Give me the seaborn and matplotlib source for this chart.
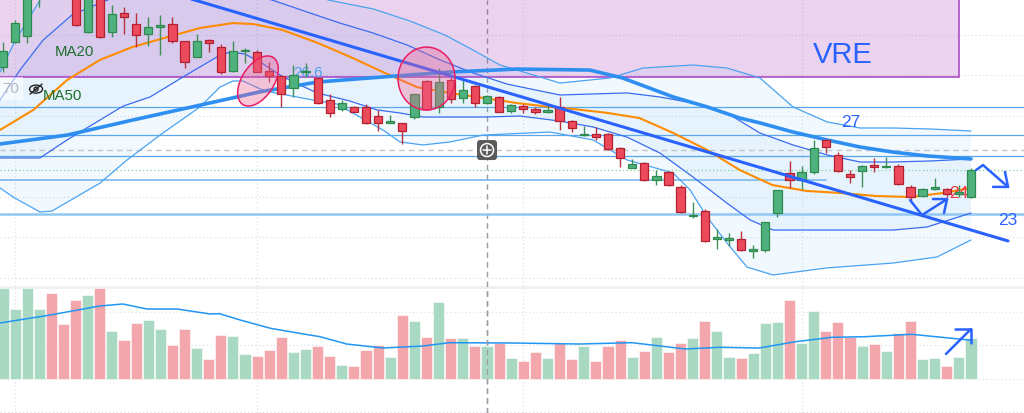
import numpy as np
import pandas as pd
import seaborn as sns
import matplotlib.pyplot as plt
from matplotlib import transforms
from matplotlib.patches import Rectangle, Ellipse, FancyBboxPatch, Circle

# -----------------------------
# Daily candles (VRE)
# -----------------------------
opens = [30.42, 31.62, 31.95, 34.6, 36.3, 35.8, 34.4, 32.14, 34.0, 32.14,
         33.05, 32.51, 32.02, 32.39, 32.51, 31.70, 30.91, 31.72, 31.39, 30.22,
         31.17, 31.13, 30.2, 29.94, 29.35, 30.13, 29.84, 28.77, 28.33, 28.44,
         28.44, 28.0, 27.66, 27.62, 27.92, 29.71, 28.44, 29.76, 28.89, 29.46,
         28.61, 28.93, 28.23, 28.49, 28.31, 28.19, 28.44, 27.73, 27.03, 27.09,
         27.09, 26.39, 25.43, 25.65, 24.82, 25.2, 24.49, 23.03, 23.31, 21.93,
         21.88, 21.91, 21.32, 21.36, 23.18, 25.18, 24.82, 25.2, 26.8, 26.06,
         25.12, 25.28, 25.56, 25.44, 25.51, 24.49, 24.03, 24.39, 24.36, 24.15,
         24.0]
highs = [31.65, 32.72, 34.4, 35.9, 36.6, 36.2, 34.6, 34.3, 34.2, 33.46,
         33.35, 33.05, 32.86, 32.97, 32.89, 31.71, 32.02, 31.78, 31.54, 31.7,
         31.35, 31.24, 30.66, 30.01, 30.5, 30.61, 29.92, 29.07, 28.77, 28.48,
         28.57, 28.28, 28.03, 27.63, 29.07, 29.76, 30.34, 29.92, 29.76, 29.51,
         29.02, 28.97, 28.56, 28.57, 28.44, 28.57, 28.9, 27.78, 27.49, 27.45,
         27.13, 26.47, 25.84, 25.7, 25.31, 25.27, 24.57, 23.72, 23.37, 22.39,
         22.19, 22.3, 21.61, 22.76, 24.33, 25.76, 25.53, 26.8, 26.83, 26.19,
         25.31, 25.55, 25.89, 25.97, 25.6, 24.57, 24.44, 24.93, 24.41, 24.57,
         25.4]
lows = [30.17, 31.59, 31.59, 33.36, 34.9, 34.4, 32.45, 32.1, 31.85, 31.87,
        32.02, 31.40, 31.45, 30.99, 31.6, 30.34, 30.9, 31.16, 30.06, 30.17,
        30.61, 30.15, 29.65, 28.41, 28.93, 29.92, 28.57, 27.95, 28.23, 28.16,
        27.61, 27.26, 27.62, 26.6, 27.83, 28.28, 28.11, 28.61, 28.61, 28.44,
        28.56, 28.16, 28.11, 28.11, 28.08, 28.11, 27.29, 27.18, 26.99, 26.8,
        26.3, 25.48, 25.4, 24.79, 24.57, 24.52, 23.18, 22.93, 21.74, 21.4,
        21.56, 21.33, 20.95, 21.28, 23.01, 24.41, 24.36, 25.12, 26.17, 25.2,
        24.69, 24.49, 25.23, 25.4, 24.57, 23.75, 24.0, 24.33, 23.97, 23.98,
        23.92]
closes = [31.21, 32.56, 34.2, 35.5, 35.4, 34.6, 32.48, 34.0, 31.9, 33.0,
          32.86, 31.98, 32.36, 32.40, 31.69, 30.63, 31.69, 31.6, 30.17, 31.19,
          31.18, 30.17, 29.97, 29.05, 30.01, 30.14, 28.61, 28.11, 28.64, 28.19,
          27.62, 27.62, 27.68, 27.24, 29.05, 28.34, 29.65, 28.81, 29.27, 28.61,
          28.95, 28.19, 28.51, 28.33, 28.16, 28.2, 27.75, 27.37, 27.05, 26.93,
          26.35, 25.91, 25.6, 24.82, 25.03, 24.56, 23.26, 23.05, 21.79, 21.95,
          21.9, 21.36, 21.33, 22.73, 24.31, 24.82, 25.2, 26.39, 26.47, 25.28,
          24.98, 25.53, 25.45, 25.45, 24.62, 23.97, 24.36, 24.4, 24.11, 24.17,
          25.31]
volumes = [9.07, 6.97, 9.07, 6.97, 8.57, 5.47, 7.87, 8.37, 9.07, 4.77,
           3.87, 5.57, 5.87, 4.97, 3.37, 4.97, 3.07, 1.97, 4.37, 4.27,
           2.47, 2.27, 2.87, 4.17, 2.67, 2.97, 3.27, 2.27, 1.37, 1.27,
           2.87, 3.37, 2.17, 6.37, 5.77, 4.17, 7.67, 4.07, 4.07, 3.27,
           3.27, 3.57, 2.07, 1.80, 2.70, 2.10, 3.60, 1.97, 3.30, 1.80,
           3.24, 3.84, 2.17, 2.80, 4.14, 2.64, 3.60, 4.07, 5.80, 4.74,
           2.17, 2.04, 2.57, 5.57, 5.67, 7.87, 3.60, 6.80, 4.80, 5.67,
           4.20, 3.24, 3.47, 2.80, 4.54, 5.80, 1.97, 2.04, 1.27, 2.17,
           4.07]

# -----------------------------
# Indicator lines (read at sample points: bar index, price)
# -----------------------------
ma20_x = [-0.25, 2.5, 5.3, 8.0, 10.7, 13.6, 16.3, 19.0, 20.7, 23.1, 26.0, 28.7, 31.4, 34.2, 36.9, 39.7,
          42.5, 45.2, 47.1, 50.0, 52.6, 55.4, 58.2, 60.9, 63.6, 66.4, 69.2, 72.2, 75.0, 77.7, 80.0]
ma20_y = [27.29, 28.28, 29.76, 30.75, 31.39, 31.88, 32.33, 32.57, 32.52, 32.23, 31.59, 30.9, 30.15, 29.41,
          29.12, 28.87, 28.62, 28.43, 28.33, 28.13, 27.88, 27.14, 26.3, 25.31, 24.57, 24.28, 24.18, 24.03,
          23.98, 24.18, 24.43]
ma50_x = [-0.25, 5.3, 10.7, 16.3, 21.2, 26.0, 31.4, 36.9, 42.5, 48.5, 51.2, 55.4, 58.2, 60.9, 62.56,
          65.29, 68.1, 70.83, 73.55, 76.36, 80.0]
ma50_y = [26.6, 27.04, 27.78, 28.52, 29.17, 29.66, 29.91, 30.15, 30.3, 30.25, 29.86, 28.92, 28.43, 27.88,
          27.64, 27.19, 26.8, 26.45, 26.2, 26.01, 25.86]

# Bollinger bands: outer (2 sd) and inner (1 sd)
bb_up2_x = [-0.25, 0.83, 1.65, 3.06, 4.71, 8.02, 12.15, 16.28, 20.41, 24.55, 26.86, 30.58, 33.64, 36.53,
            38.84, 41.07, 44.38, 46.03, 50.17, 52.89, 57.02, 59.83, 62.56, 65.29, 68.1, 70.83, 73.55,
            76.61, 80.0]
bb_up2_y = [30.15, 31.49, 32.33, 33.71, 35.19, 36.67, 36.77, 36.28, 35.29, 34.30, 33.71, 33.27, 32.67,
            31.98, 31.24, 30.5, 29.91, 29.61, 29.86, 30.35, 30.5, 30.35, 29.86, 28.43, 27.69, 27.39,
            27.39, 27.34, 27.24]
bb_up1_x = [-0.25, 1.40, 3.31, 5.70, 8.02, 9.26, 12.15, 16.28, 19.59, 22.23, 25.12, 27.85, 30.58, 33.39,
            36.12, 38.84, 41.65, 44.38, 46.03, 48.76, 51.57, 54.3, 57.02, 59.83, 62.56, 65.29, 68.1,
            70.83, 73.55, 76.61, 80.0]
bb_up1_y = [28.77, 30.25, 31.73, 32.97, 33.56, 33.86, 34.30, 34.30, 34.01, 33.71, 33.12, 32.57, 32.08,
            31.49, 30.75, 30.11, 29.56, 29.22, 29.02, 29.07, 29.12, 28.92, 28.62, 28.13, 27.14, 26.55,
            26.06, 25.71, 25.71, 25.76, 25.86]
bb_lo1_x = [-0.25, 3.06, 5.29, 9.92, 12.15, 14.88, 17.69, 18.76, 20.0, 21.24, 23.14, 25.95, 28.68, 30.91,
            32.81, 34.71, 39.67, 42.73, 46.03, 48.76, 51.57, 54.3, 57.02, 59.83, 61.74, 63.64, 68.1,
            73.55, 76.36, 80.0]
bb_lo1_y = [25.91, 25.91, 26.8, 28.47, 28.92, 29.91, 30.9, 31.14, 31.04, 30.65, 29.91, 29.12, 28.72,
            28.28, 28.13, 27.93, 27.93, 27.98, 27.73, 27.44, 26.94, 26.15, 24.97, 23.68, 22.85, 22.35,
            22.35, 22.35, 22.5, 23.19]
bb_lo2_x = [-0.25, 0.83, 3.06, 4.05, 8.02, 10.25, 12.98, 16.28, 17.93, 19.01, 19.83, 21.24, 22.07, 25.62,
            27.6, 31.4, 32.81, 34.71, 36.94, 39.67, 45.21, 48.76, 51.57, 55.37, 56.78, 58.18, 59.83,
            61.49, 63.64, 68.1, 73.55, 77.19, 80.0]
bb_lo2_y = [24.43, 23.98, 23.24, 23.29, 24.67, 25.81, 27.04, 28.43, 29.41, 29.71, 29.71, 29.32, 29.17,
            28.77, 28.57, 27.29, 26.7, 26.55, 26.7, 27.04, 27.19, 26.8, 25.81, 25.17, 24.33, 23.0, 21.71,
            20.52, 20.13, 20.48, 20.72, 21.02, 21.86]

# volume moving average
vol_ma_x = [-0.25, 3.9, 8.0, 9.9, 11.9, 14.4, 17.1, 17.9, 19.6, 22.1, 24.5, 26.2, 28.4, 31.4, 34.7,
            36.9, 42.1, 47.6, 52.0, 56.4, 59.2, 62.5, 65.5, 68.5, 71.2, 75.1, 80.0]
vol_ma_y = [5.57, 6.37, 7.27, 7.47, 6.97, 6.97, 6.47, 6.5, 5.87, 5.04, 4.54, 4.2, 3.47, 3.07, 3.27,
            3.6, 3.57, 3.47, 3.6, 2.97, 3.14, 3.07, 3.7, 4.14, 4.2, 4.44, 3.85]

# drawn levels / trendline / grid
level_prices = [28.44, 27.04, 26.01, 23.16]
short_level = 24.81
price_grid = [20, 22, 24, 26, 28, 30, 32]
vol_grid = [-3.33, 0, 3.33, 6.67]
time_grid = [1, 21, 43, 66]
trend_x = [13.06, 83.06]
trend_y = [34.2, 21.81]

# -----------------------------
# Styling
# -----------------------------
sns.set_theme(style="white")
plt.rcParams["font.family"] = ["Liberation Sans", "DejaVu Sans"]

UP_BODY, UP_EDGE = "#4fb27e", "#2f8a4e"
DN_BODY, DN_EDGE = "#ec4b5c", "#b3202f"
VOL_UP, VOL_DN = "#aad9c3", "#f4a6ad"
BLUE_DARK = "#2962ff"

df = pd.DataFrame({"day": np.arange(len(opens)), "open": opens, "high": highs,
                   "low": lows, "close": closes, "volume": volumes})
df["side"] = np.where(df["close"] >= df["open"], "up", "down")

fig = plt.figure(figsize=(10.24, 4.13), dpi=100)
ax = fig.add_axes([0, 0, 1, 1])
axv = ax.twinx()

XLIM = (-0.25, 84.38)

# grid
for p in price_grid:
    ax.axhline(p, color="#dfe1e6", lw=0.9, ls=(0, (1, 2)), zorder=0.2)
for t in time_grid:
    ax.axvline(t, color="#dfe1e6", lw=0.9, ls=(0, (1, 2)), zorder=0.2)
ax.axhline(19.54, color="#eef0f3", lw=2, zorder=0.2)

# Bollinger fills
ax.fill(np.r_[bb_up2_x, bb_lo2_x[::-1]], np.r_[bb_up2_y, bb_lo2_y[::-1]],
        color="#2196f3", alpha=0.06, lw=0, zorder=0.4)
ax.fill(np.r_[bb_up1_x, bb_lo1_x[::-1]], np.r_[bb_up1_y, bb_lo1_y[::-1]],
        color="#2196f3", alpha=0.05, lw=0, zorder=0.4)

# purple zone
ax.add_patch(Rectangle((-1, 29.93), 80.03, 8, facecolor=(0.612, 0.153, 0.69, 0.2),
                       edgecolor="#a53fc4", lw=1.1, zorder=0.8))

# crosshair
ax.axvline(40, color="#9a9da5", lw=1, ls=(0, (4, 3)), zorder=0.7)
ax.axhline(26.3, color="#c3c5cb", lw=1, ls=(0, (4, 3)), zorder=0.7)
ax.axhline(25.31, color="#7fcf9a", lw=0.9, ls=(0, (1, 2)), zorder=0.7)

# horizontal levels
for lv in level_prices[:-1]:
    ax.axhline(lv, color="#5aa6ea", lw=0.9, zorder=1)
ax.axhline(level_prices[-1], color="#90c8f5", lw=1.8, zorder=1)
ax.axhline(short_level, xmin=0, xmax=0.807, color="#7ab8ee", lw=1.2, zorder=1)

# bands and moving averages
for bx, by in [(bb_up2_x, bb_up2_y), (bb_lo2_x, bb_lo2_y)]:
    sns.lineplot(x=bx, y=by, ax=ax, color="#4aa3f2", linewidth=0.9, sort=False, estimator=None, zorder=1.5)
for bx, by in [(bb_up1_x, bb_up1_y), (bb_lo1_x, bb_lo1_y)]:
    sns.lineplot(x=bx, y=by, ax=ax, color="#3b6cf0", linewidth=0.9, sort=False, estimator=None, zorder=1.5)
sns.lineplot(x=ma20_x, y=ma20_y, ax=ax, color="#ff8c00", linewidth=1.5, sort=False, estimator=None, zorder=2)
sns.lineplot(x=ma50_x, y=ma50_y, ax=ax, color="#2f8ff0", linewidth=2.6, sort=False, estimator=None, zorder=2)

# labels under candles
ax.text(25.2, 30.1, "26.6", color="#4aa3f0", fontsize=11, ha="center", va="center", zorder=2.5)
ax.text(79.0, 24.13, "24", color="#f23645", fontsize=12.5, ha="center", va="center", zorder=2.5)

# candles
up = df["side"] == "up"
wick_cols = np.where(up, "#3f9058", "#b9303f")
ax.vlines(df["day"], df["low"], df["high"], colors=wick_cols, lw=1, zorder=2.8)
body_lo = np.minimum(df["open"], df["close"])
body_h = np.maximum(np.abs(df["close"] - df["open"]), 0.08)
ax.bar(df["day"], body_h, bottom=body_lo, width=0.68,
       color=np.where(up, UP_BODY, DN_BODY), edgecolor=np.where(up, UP_EDGE, DN_EDGE),
       linewidth=0.9, zorder=3)

# trendline
ax.plot(trend_x, trend_y, color=BLUE_DARK, lw=2.2, solid_capstyle="round", zorder=3.5)


def px_trans(x, y):
    # fixed pixel-size offsets placed at a data point (1 inch = 100 px)
    return fig.dpi_scale_trans + transforms.ScaledTranslation(x, y, ax.transData)


# highlight ellipses
ax.add_patch(Ellipse((0, 0), 0.56, 0.32, angle=57, transform=px_trans(21.07, 29.71),
                     facecolor=(0.94, 0.38, 0.57, 0.35), edgecolor="#e91e63", lw=1.1, zorder=4))
ax.add_patch(Ellipse((0, 0), 0.57, 0.63, angle=0, transform=px_trans(35.0, 29.83),
                     facecolor=(0.94, 0.38, 0.57, 0.35), edgecolor="#e91e63", lw=1.1, zorder=4))

# drawn arrows
arrow_kw = dict(color=BLUE_DARK, lw=1.8, solid_capstyle="round", solid_joinstyle="round", zorder=4)
ax.plot([80.41, 80.99, 83.06], [25.31, 25.56, 24.48], **arrow_kw)
ax.plot([81.82, 83.06, 82.81], [24.48, 24.48, 25.22], **arrow_kw)
ax.plot([74.96, 75.95, 78.02], [23.83, 23.09, 23.88], **arrow_kw)
ax.plot([76.86, 78.02, 77.77], [23.88, 23.88, 23.19], **arrow_kw)

# legend-like texts
ax.add_patch(Rectangle((-1, 28.77), 2.63, 1.15, facecolor="white", alpha=0.55, lw=0, zorder=3.6))
ax.text(0.66, 29.3, "70", color="#b5b8bf", fontsize=11, ha="center", va="center", zorder=3.7)
eye = px_trans(2.73, 29.31)
ax.add_patch(Ellipse((0, 0), 0.13, 0.08, transform=eye, fill=False, ec="#222222", lw=1, zorder=4))
ax.add_patch(Circle((0, 0), 0.02, transform=eye, fill=False, ec="#222222", lw=1, zorder=4))
ax.plot([-0.06, 0.06], [-0.05, 0.05], transform=eye, color="#222222", lw=1, zorder=4)
ax.text(5.87, 31.14, "MA20", color="#1e6e2c", fontsize=10.8, ha="center", va="center", zorder=4)
ax.text(4.88, 28.99, "MA50", color="#1e6e2c", fontsize=10.8, ha="center", va="center", zorder=4)
ax.text(69.42, 30.99, "VRE", color=BLUE_DARK, fontsize=21, ha="center", va="center", zorder=4)
ax.text(70.08, 27.64, "27", color=BLUE_DARK, fontsize=12.5, ha="center", va="center", zorder=4)
ax.text(83.06, 22.8, "23", color=BLUE_DARK, fontsize=12.5, ha="center", va="center", zorder=4)

# crosshair button
btn = px_trans(40, 26.3)
ax.add_patch(FancyBboxPatch((-0.1, -0.1), 0.2, 0.2, boxstyle="round,pad=0,rounding_size=0.03",
                            transform=btn, facecolor="#4d4d4d", edgecolor="none", alpha=0.92, zorder=6))
ax.add_patch(Circle((0, 0), 0.065, transform=btn, fill=False, ec="white", lw=1.1, zorder=6.1))
ax.plot([-0.04, 0.04], [0, 0], transform=btn, color="white", lw=1.1, zorder=6.2)
ax.plot([0, 0], [-0.04, 0.04], transform=btn, color="white", lw=1.1, zorder=6.2)

# -----------------------------
# Volume pane
# -----------------------------
for v in vol_grid:
    axv.axhline(v, color="#dfe1e6", lw=0.9, ls=(0, (1, 2)), zorder=0.2)
sns.barplot(data=df, x="day", y="volume", hue="side", palette={"up": VOL_UP, "down": VOL_DN},
            native_scale=True, dodge=False, width=0.92, saturation=1, errorbar=None, legend=False,
            edgecolor="#ffffff", linewidth=0.4, ax=axv, zorder=2)
sns.lineplot(x=vol_ma_x, y=vol_ma_y, ax=axv, color="#2196f3", linewidth=1.1, sort=False,
             estimator=None, zorder=3)
axv.axvline(40, ymin=0, ymax=0.305, color="#9a9da5", lw=1, ls=(0, (4, 3)), zorder=3)
vol_arrow = dict(color=BLUE_DARK, lw=1.8, solid_capstyle="round", zorder=4)
axv.plot([77.93, 80.0], [2.47, 4.97], **vol_arrow)
axv.plot([78.68, 80.0, 80.0], [4.97, 4.97, 3.57], **vol_arrow)

for a in (ax, axv):
    a.set_xlim(*XLIM)
    a.set_axis_off()
ax.set_ylim(13.315, 33.71)
axv.set_ylim(-3.43, 37.87)

plt.savefig("out.png", dpi=100)
plt.close()
